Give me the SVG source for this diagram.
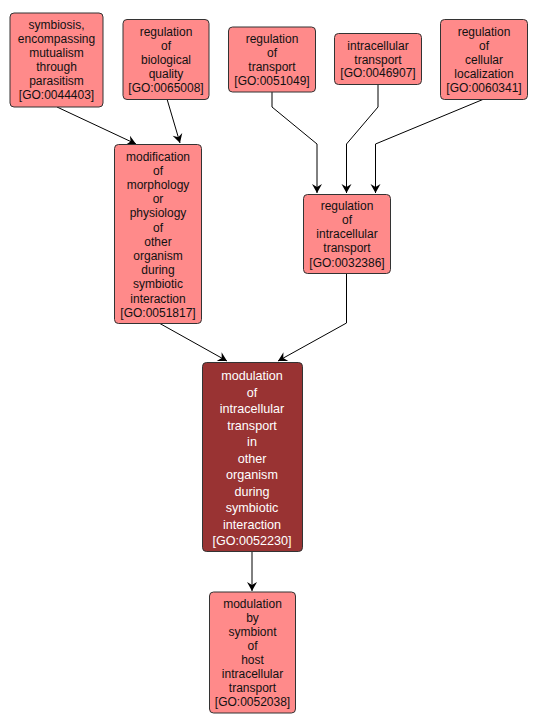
<svg xmlns="http://www.w3.org/2000/svg" width="538" height="727" viewBox="0 0 538 727">
<style>
.n rect{fill:#FF8A8A;stroke:#333;stroke-width:1}
.d rect{fill:#993333;stroke:#333;stroke-width:1}
text{font-family:"Liberation Sans",Arial,sans-serif;font-size:12px;text-anchor:middle;fill:#111}
.d text{fill:#fff;font-size:12.6px}
.e{fill:none;stroke:#000;stroke-width:1}
</style>
<defs>
<marker id="a" viewBox="-10 -6 12 12" refX="0" refY="0" markerWidth="12" markerHeight="12" markerUnits="userSpaceOnUse" orient="auto">
<path d="M0,0 L-9,-5 L-6,0 L-9,5 Z" fill="#000"/>
</marker>
</defs>
<rect width="538" height="727" fill="#fff"/>
<g id="edges">
<path class="e" d="M57,107 L136,144" marker-end="url(#a)"/>
<path class="e" d="M167,99 L180,143" marker-end="url(#a)"/>
<path class="e" d="M272,92 L272,107 L317,144 L317,193" marker-end="url(#a)"/>
<path class="e" d="M378,84 L378,107 L346.5,144 L346.5,193" marker-end="url(#a)"/>
<path class="e" d="M484,99 L375.5,144 L375.5,193" marker-end="url(#a)"/>
<path class="e" d="M159,323 L227,361" marker-end="url(#a)"/>
<path class="e" d="M346.5,273 L346.5,323 L278,361" marker-end="url(#a)"/>
<path class="e" d="M252,552 L252,591" marker-end="url(#a)"/>
</g>
<g id="GO0044403" class="n">
<rect x="10" y="13" width="93" height="94" rx="4"/>
<text x="56.5" y="29">symbiosis,</text>
<text x="56.5" y="43">encompassing</text>
<text x="56.5" y="57">mutualism</text>
<text x="56.5" y="71">through</text>
<text x="56.5" y="85">parasitism</text>
<text x="56.5" y="99">[GO:0044403]</text>
</g>
<g id="GO0065008" class="n">
<rect x="123" y="19.5" width="86" height="80" rx="4"/>
<text x="166" y="36">regulation</text>
<text x="166" y="50">of</text>
<text x="166" y="64">biological</text>
<text x="166" y="78">quality</text>
<text x="166" y="92">[GO:0065008]</text>
</g>
<g id="GO0051049" class="n">
<rect x="228.5" y="27" width="87" height="65" rx="4"/>
<text x="272" y="43">regulation</text>
<text x="272" y="57">of</text>
<text x="272" y="71">transport</text>
<text x="272" y="85">[GO:0051049]</text>
</g>
<g id="GO0046907" class="n">
<rect x="334.5" y="33.5" width="87" height="51" rx="4"/>
<text x="378" y="50">intracellular</text>
<text x="378" y="64">transport</text>
<text x="378" y="77">[GO:0046907]</text>
</g>
<g id="GO0060341" class="n">
<rect x="440.5" y="19.5" width="87" height="80" rx="4"/>
<text x="484" y="36">regulation</text>
<text x="484" y="50">of</text>
<text x="484" y="64">cellular</text>
<text x="484" y="78">localization</text>
<text x="484" y="92">[GO:0060341]</text>
</g>
<g id="GO0051817" class="n">
<rect x="114.5" y="144.5" width="87" height="179" rx="4"/>
<text x="158" y="161">modification</text>
<text x="158" y="175">of</text>
<text x="158" y="189">morphology</text>
<text x="158" y="203">or</text>
<text x="158" y="217">physiology</text>
<text x="158" y="232">of</text>
<text x="158" y="246">other</text>
<text x="158" y="260">organism</text>
<text x="158" y="274">during</text>
<text x="158" y="288">symbiotic</text>
<text x="158" y="303">interaction</text>
<text x="158" y="317">[GO:0051817]</text>
</g>
<g id="GO0032386" class="n">
<rect x="303.5" y="194.5" width="87" height="79" rx="4"/>
<text x="347" y="210">regulation</text>
<text x="347" y="224">of</text>
<text x="347" y="238">intracellular</text>
<text x="347" y="252">transport</text>
<text x="347" y="267">[GO:0032386]</text>
</g>
<g id="GO0052230" class="d">
<rect x="202.5" y="362.5" width="100" height="189" rx="4"/>
<text x="252" y="380">modulation</text>
<text x="252" y="396.5">of</text>
<text x="252" y="413">intracellular</text>
<text x="252" y="429.5">transport</text>
<text x="252" y="446">in</text>
<text x="252" y="462.5">other</text>
<text x="252" y="479">organism</text>
<text x="252" y="495.5">during</text>
<text x="252" y="512">symbiotic</text>
<text x="252" y="528.5">interaction</text>
<text x="252" y="545">[GO:0052230]</text>
</g>
<g id="GO0052038" class="n">
<rect x="209.5" y="592" width="86" height="121" rx="4"/>
<text x="252.5" y="608">modulation</text>
<text x="252.5" y="622">by</text>
<text x="252.5" y="636">symbiont</text>
<text x="252.5" y="650">of</text>
<text x="252.5" y="664">host</text>
<text x="252.5" y="678">intracellular</text>
<text x="252.5" y="692">transport</text>
<text x="252.5" y="706">[GO:0052038]</text>
</g>
</svg>
